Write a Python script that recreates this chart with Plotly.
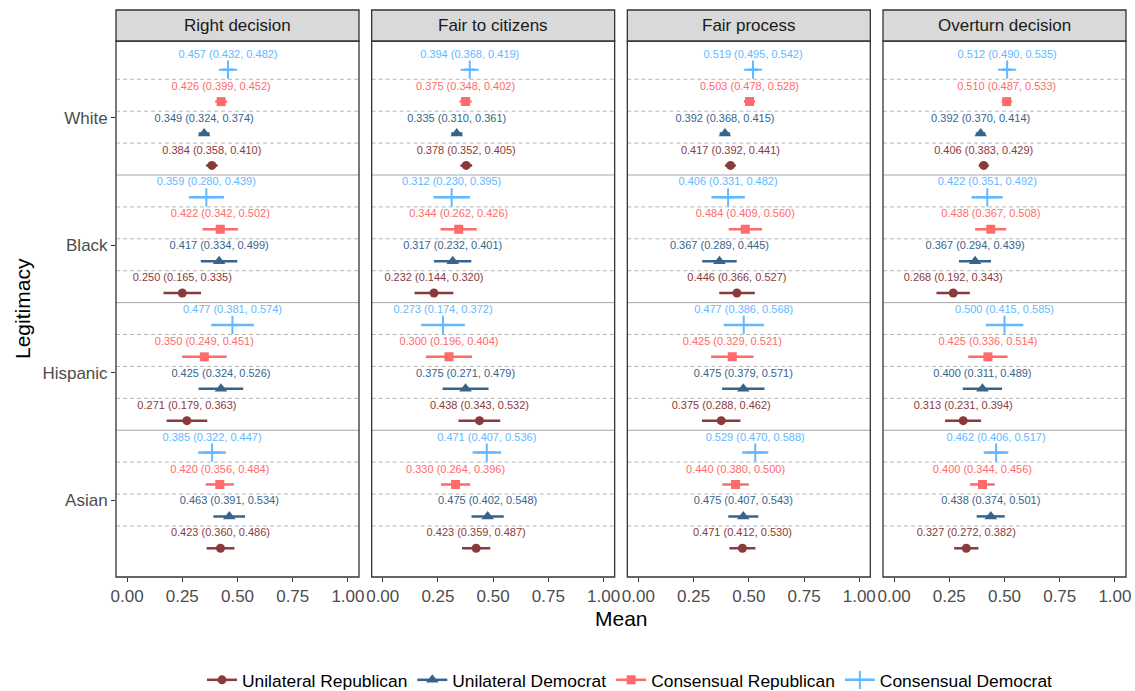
import plotly.graph_objects as go
from plotly.subplots import make_subplots

# Facets, groups and series
measures = ["Right decision", "Fair to citizens", "Fair process", "Overturn decision"]
groups = ["White", "Black", "Hispanic", "Asian"]
series = ["Unilateral Republican", "Unilateral Democrat", "Consensual Republican", "Consensual Democrat"]

# Each list: one row per measure, values ordered White, Black, Hispanic, Asian
ur_mean = [[0.384, 0.250, 0.271, 0.423], [0.378, 0.232, 0.438, 0.423],
           [0.417, 0.446, 0.375, 0.471], [0.406, 0.268, 0.313, 0.327]]
ur_lo = [[0.358, 0.165, 0.179, 0.360], [0.352, 0.144, 0.343, 0.359],
         [0.392, 0.366, 0.288, 0.412], [0.383, 0.192, 0.231, 0.272]]
ur_hi = [[0.410, 0.335, 0.363, 0.486], [0.405, 0.320, 0.532, 0.487],
         [0.441, 0.527, 0.462, 0.530], [0.429, 0.343, 0.394, 0.382]]

ud_mean = [[0.349, 0.417, 0.425, 0.463], [0.335, 0.317, 0.375, 0.475],
           [0.392, 0.367, 0.475, 0.475], [0.392, 0.367, 0.400, 0.438]]
ud_lo = [[0.324, 0.334, 0.324, 0.391], [0.310, 0.232, 0.271, 0.402],
         [0.368, 0.289, 0.379, 0.407], [0.370, 0.294, 0.311, 0.374]]
ud_hi = [[0.374, 0.499, 0.526, 0.534], [0.361, 0.401, 0.479, 0.548],
         [0.415, 0.445, 0.571, 0.543], [0.414, 0.439, 0.489, 0.501]]

cr_mean = [[0.426, 0.422, 0.350, 0.420], [0.375, 0.344, 0.300, 0.330],
           [0.503, 0.484, 0.425, 0.440], [0.510, 0.438, 0.425, 0.400]]
cr_lo = [[0.399, 0.342, 0.249, 0.356], [0.348, 0.262, 0.196, 0.264],
         [0.478, 0.409, 0.329, 0.380], [0.487, 0.367, 0.336, 0.344]]
cr_hi = [[0.452, 0.502, 0.451, 0.484], [0.402, 0.426, 0.404, 0.396],
         [0.528, 0.560, 0.521, 0.500], [0.533, 0.508, 0.514, 0.456]]

cd_mean = [[0.457, 0.359, 0.477, 0.385], [0.394, 0.312, 0.273, 0.471],
           [0.519, 0.406, 0.477, 0.529], [0.512, 0.422, 0.500, 0.462]]
cd_lo = [[0.432, 0.280, 0.381, 0.322], [0.368, 0.230, 0.174, 0.407],
         [0.495, 0.331, 0.386, 0.470], [0.490, 0.351, 0.415, 0.406]]
cd_hi = [[0.482, 0.439, 0.574, 0.447], [0.419, 0.395, 0.372, 0.536],
         [0.542, 0.482, 0.568, 0.588], [0.535, 0.492, 0.585, 0.517]]

x_ticks = [0, 0.25, 0.5, 0.75, 1.0]
x_tick_labels = ["0.00", "0.25", "0.50", "0.75", "1.00"]

FONT = "Liberation Sans, Arial, sans-serif"
styles = {
    "Unilateral Republican": dict(color="#8B3A3A", symbol="circle", size=9, mean=ur_mean, lo=ur_lo, hi=ur_hi, dodge=-0.375),
    "Unilateral Democrat": dict(color="#36648B", symbol="triangle-up", size=11, mean=ud_mean, lo=ud_lo, hi=ud_hi, dodge=-0.125),
    "Consensual Republican": dict(color="#FF6A6A", symbol="square", size=9, mean=cr_mean, lo=cr_lo, hi=cr_hi, dodge=0.125),
    "Consensual Democrat": dict(color="#63B8FF", symbol="cross-thin", size=13, mean=cd_mean, lo=cd_lo, hi=cd_hi, dodge=0.375),
}

# Discrete y positions: first group at the top
ypos = {g: len(groups) - i for i, g in enumerate(groups)}

W, H = 1135, 691
ML, MR, MT, MB = 116, 9, 41, 114
plot_w = W - ML - MR
plot_h = H - MT - MB
gap = 12.67

fig = make_subplots(rows=1, cols=4, shared_yaxes=True, horizontal_spacing=gap / plot_w)

for c, m in enumerate(measures):
    col = c + 1
    for s in series:
        st = styles[s]
        mean = st["mean"][c]
        lo = st["lo"][c]
        hi = st["hi"][c]
        ys = [ypos[g] + st["dodge"] for g in groups]
        marker = dict(color=st["color"], symbol=st["symbol"], size=st["size"])
        if st["symbol"] == "cross-thin":
            marker["line"] = dict(color=st["color"], width=2)
        fig.add_trace(go.Scatter(
            x=mean, y=ys, mode="markers", marker=marker, showlegend=False,
            error_x=dict(type="data", symmetric=False,
                         array=[h - v for h, v in zip(hi, mean)],
                         arrayminus=[v - l for v, l in zip(mean, lo)],
                         width=0, thickness=2.5, color=st["color"]),
            hoverinfo="x+y",
        ), row=1, col=col)
        labels = [f"{v:.3f} ({l:.3f}, {h:.3f})" for v, l, h in zip(mean, lo, hi)]
        fig.add_trace(go.Scatter(
            x=mean, y=[y + 0.115 for y in ys], mode="text", text=labels,
            textposition="middle center",
            textfont=dict(family=FONT, size=11, color=st["color"]),
            showlegend=False, hoverinfo="skip", cliponaxis=False,
        ), row=1, col=col)

# Legend entries with a line through the key, as for point ranges
for s in series:
    st = styles[s]
    marker = dict(color=st["color"], symbol=st["symbol"], size=st["size"])
    if st["symbol"] == "cross-thin":
        marker["line"] = dict(color=st["color"], width=2)
    fig.add_trace(go.Scatter(x=[None], y=[None], mode="lines+markers", name=s,
                             line=dict(color=st["color"], width=2.5), marker=marker))

shapes = []
annotations = []
strip_h = 31 / plot_h
for c, m in enumerate(measures):
    xd = "x domain" if c == 0 else f"x{c + 1} domain"
    yd = "y domain" if c == 0 else f"y{c + 1} domain"
    yr = "y" if c == 0 else f"y{c + 1}"
    # separators between groups (solid) and between series (dashed)
    for i in range(1, len(groups) + 1):
        for off in (0.3, 0.05, -0.2):
            shapes.append(dict(type="line", xref=xd, yref=yr, x0=0, x1=1, y0=i + off, y1=i + off,
                               line=dict(color="#B5B5B5", width=1, dash="4px,3px"), layer="below"))
        if i < len(groups):
            shapes.append(dict(type="line", xref=xd, yref=yr, x0=0, x1=1, y0=i + 0.55, y1=i + 0.55,
                               line=dict(color="#A6A6A6", width=1), layer="below"))
    # panel border
    shapes.append(dict(type="rect", xref=xd, yref=yd, x0=0, x1=1, y0=0, y1=1,
                       line=dict(color="#333333", width=1.3), fillcolor="rgba(0,0,0,0)", layer="above"))
    # strip
    shapes.append(dict(type="rect", xref=xd, yref="paper", x0=0, x1=1, y0=1, y1=1 + strip_h,
                       line=dict(color="#333333", width=1.3), fillcolor="#D9D9D9"))
    annotations.append(dict(xref=xd, yref="paper", x=0.5, y=1 + strip_h / 2, text=m, showarrow=False,
                            font=dict(family=FONT, size=17, color="#1A1A1A"),
                            xanchor="center", yanchor="middle"))

annotations.append(dict(xref="paper", yref="paper", x=0.5, y=-(618 - (MT + plot_h)) / plot_h,
                        text="Mean", showarrow=False, font=dict(family=FONT, size=21, color="#000000"),
                        xanchor="center", yanchor="middle"))
annotations.append(dict(xref="paper", yref="paper", x=-(ML - 22) / plot_w, y=0.5,
                        text="Legitimacy", showarrow=False, textangle=-90,
                        font=dict(family=FONT, size=21, color="#000000"),
                        xanchor="center", yanchor="middle"))

fig.update_xaxes(range=[-0.05, 1.05], tickvals=x_ticks, ticktext=x_tick_labels,
                 showgrid=False, zeroline=False, showline=False,
                 ticks="outside", ticklen=4, tickwidth=1.2, tickcolor="#333333",
                 tickfont=dict(family=FONT, size=17, color="#4D4D4D"))
fig.update_yaxes(range=[0.4, 4.6], showgrid=False, zeroline=False, showline=False)
fig.update_yaxes(tickvals=[ypos[g] for g in groups], ticktext=groups,
                 ticks="outside", ticklen=4, tickwidth=1.2, tickcolor="#333333",
                 tickfont=dict(family=FONT, size=17, color="#4D4D4D"), row=1, col=1)
for c in range(2, 5):
    fig.update_yaxes(ticks="", showticklabels=False, row=1, col=c)

fig.update_layout(
    width=W, height=H,
    margin=dict(l=ML, r=MR, t=MT, b=MB, autoexpand=False),
    plot_bgcolor="white", paper_bgcolor="white",
    font=dict(family=FONT),
    shapes=shapes, annotations=annotations,
    legend=dict(orientation="h", x=(630 - ML) / plot_w, xanchor="center",
                y=-(680 - (MT + plot_h)) / plot_h, yanchor="middle",
                font=dict(family=FONT, size=17.4, color="#000000"),
                itemwidth=30, bgcolor="rgba(0,0,0,0)"),
)

fig.write_html("out.html")
